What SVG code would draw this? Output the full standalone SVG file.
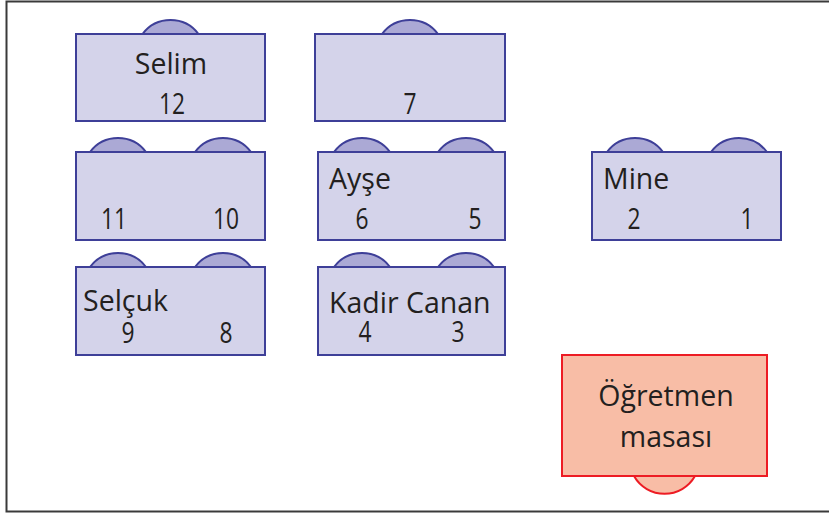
<svg xmlns="http://www.w3.org/2000/svg" width="829" height="515" viewBox="0 0 829 515">
<style>
.desk{fill:#d4d3ea;stroke:#3e3f98;stroke-width:2}
.seat{fill:#aba9d5;stroke:#3e3f98;stroke-width:2}
.tdesk{fill:#f8bda6;stroke:#ed1c24;stroke-width:2}
.tseat{fill:#f8bda6;stroke:#ed1c24;stroke-width:2}
text{font-family:"Open Sans","Liberation Sans",sans-serif;font-size:28.5px;fill:#231f20}
.m{text-anchor:middle}
</style>
<rect x="6.5" y="1.5" width="830" height="510" fill="#fff" stroke="#3a3a3a" stroke-width="2"/>
<g id="desk-selim">
<path class="seat" d="M142.5,34 A35 35 0 0 1 198.5,34Z"/>
<rect class="desk" x="76" y="34" width="189" height="87"/>
<text class="m" x="171" y="74">Selim</text>
<text class="m" transform="translate(172,114) scale(0.8,1)">12</text>
</g>
<g id="desk-7">
<path class="seat" d="M382,34 A35 35 0 0 1 438,34Z"/>
<rect class="desk" x="315" y="34" width="190" height="87"/>
<text class="m" transform="translate(410,114) scale(0.8,1)">7</text>
</g>
<g id="desk-11-10">
<path class="seat" d="M90,152 A35 35 0 0 1 146,152Z"/>
<path class="seat" d="M195,152 A35 35 0 0 1 251,152Z"/>
<rect class="desk" x="76" y="152" width="189" height="88"/>
<text class="m" transform="translate(114,229) scale(0.8,1)">11</text>
<text class="m" transform="translate(226,229) scale(0.8,1)">10</text>
</g>
<g id="desk-selcuk">
<path class="seat" d="M90,267 A35 35 0 0 1 146,267Z"/>
<path class="seat" d="M195,267 A35 35 0 0 1 251,267Z"/>
<rect class="desk" x="76" y="267" width="189" height="88"/>
<text x="83" y="311">Selçuk</text>
<text class="m" transform="translate(128,343) scale(0.8,1)">9</text>
<text class="m" transform="translate(226,343) scale(0.8,1)">8</text>
</g>
<g id="desk-ayse">
<path class="seat" d="M334,152 A35 35 0 0 1 390,152Z"/>
<path class="seat" d="M438,152 A35 35 0 0 1 494,152Z"/>
<rect class="desk" x="318" y="152" width="187" height="88"/>
<text x="329" y="189">Ayşe</text>
<text class="m" transform="translate(362,229) scale(0.8,1)">6</text>
<text class="m" transform="translate(475,229) scale(0.8,1)">5</text>
</g>
<g id="desk-kadir-canan">
<path class="seat" d="M334,267 A35 35 0 0 1 390,267Z"/>
<path class="seat" d="M438,267 A35 35 0 0 1 494,267Z"/>
<rect class="desk" x="318" y="267" width="187" height="88"/>
<text x="329" y="313">Kadir Canan</text>
<text class="m" transform="translate(365,342) scale(0.8,1)">4</text>
<text class="m" transform="translate(458,342) scale(0.8,1)">3</text>
</g>
<g id="desk-mine">
<path class="seat" d="M607,152 A35 35 0 0 1 663,152Z"/>
<path class="seat" d="M711,152 A35 35 0 0 1 767,152Z"/>
<rect class="desk" x="592" y="152" width="189" height="88"/>
<text x="603" y="189">Mine</text>
<text class="m" transform="translate(634,229) scale(0.8,1)">2</text>
<text class="m" transform="translate(747,229) scale(0.8,1)">1</text>
</g>
<g id="teacher-desk">
<path class="tseat" d="M634,476 A35 35 0 0 0 695,476Z"/>
<rect class="tdesk" x="562" y="355" width="205" height="121"/>
<text class="m" x="666" y="406">Öğretmen</text>
<text class="m" x="666" y="447">masası</text>
</g>
<g id="connectors"/>
</svg>
